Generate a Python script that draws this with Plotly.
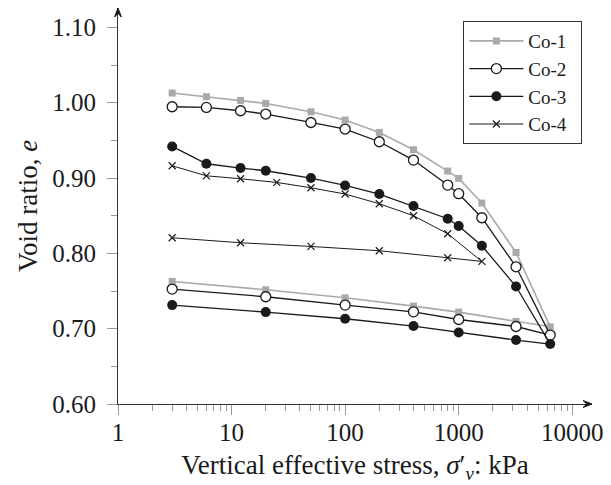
import plotly.graph_objects as go

# ---- data ----
stress_13 = [3, 6, 12, 20, 50, 100, 200, 400, 800, 1000, 1600, 3200, 6400,
             3200, 1000, 400, 100, 20, 3]
e_co1 = [1.0129, 1.0080, 1.0031, 0.9991, 0.9880, 0.9770, 0.9606, 0.9376, 0.9093,
         0.8995, 0.8668, 0.8012, 0.7025,
         0.7096, 0.7220, 0.7300, 0.7410, 0.7517, 0.7627]
e_co2 = [0.9947, 0.9938, 0.9894, 0.9850, 0.9738, 0.9651, 0.9482, 0.9239, 0.8907,
         0.8792, 0.8473, 0.7822, 0.6915,
         0.7029, 0.7122, 0.7224, 0.7313, 0.7424, 0.7526]
e_co3 = [0.9420, 0.9190, 0.9133, 0.9097, 0.9000, 0.8902, 0.8788, 0.8628, 0.8460,
         0.8363, 0.8101, 0.7560, 0.6796,
         0.6849, 0.6950, 0.7035, 0.7132, 0.7220, 0.7313]
stress_4 = [3, 6, 12, 25, 50, 100, 200, 400, 800, 1600,
            800, 200, 50, 12, 3]
e_co4 = [0.9163, 0.9030, 0.8991, 0.8942, 0.8871, 0.8788, 0.8659, 0.8500, 0.8261, 0.7893,
         0.7942, 0.8035, 0.8092, 0.8141, 0.8207]
series_names = ["Co-1", "Co-2", "Co-3", "Co-4"]

x_ticks = [1, 10, 100, 1000, 10000]
x_tick_text = ["1", "10", "100", "1000", "10000"]
x_minor = [m * d for d in [1, 10, 100, 1000] for m in range(2, 10)]
y_ticks = [0.60, 0.70, 0.80, 0.90, 1.00, 1.10]
y_tick_text = ["0.60", "0.70", "0.80", "0.90", "1.00", "1.10"]
y_minor = [0.65, 0.75, 0.85, 0.95, 1.05]

FONT = "Liberation Serif"
PAD = "\u00a0\u00a0"

fig = go.Figure()
fig.add_trace(go.Scatter(x=stress_13, y=e_co1, name=series_names[0] + PAD, mode="lines+markers",
                         line=dict(color="#aaaaaa", width=1.6),
                         marker=dict(symbol="square", size=7, color="#aaaaaa")))
fig.add_trace(go.Scatter(x=stress_13, y=e_co2, name=series_names[1] + PAD, mode="lines+markers",
                         line=dict(color="#1a1a1a", width=1.3),
                         marker=dict(symbol="circle", size=10, color="white",
                                     line=dict(color="#1a1a1a", width=1.3))))
fig.add_trace(go.Scatter(x=stress_13, y=e_co3, name=series_names[2] + PAD, mode="lines+markers",
                         line=dict(color="#1a1a1a", width=1.3),
                         marker=dict(symbol="circle", size=10, color="#1a1a1a")))
fig.add_trace(go.Scatter(x=stress_4, y=e_co4, name=series_names[3] + PAD, mode="lines+markers",
                         line=dict(color="#1a1a1a", width=1.0),
                         marker=dict(symbol="x-thin", size=7,
                                     line=dict(color="#1a1a1a", width=1.2))))

fig.update_layout(
    width=611, height=485,
    margin=dict(l=118, r=14, t=8, b=81),
    paper_bgcolor="white", plot_bgcolor="white",
    font=dict(family=FONT, size=25, color="#1a1a1a"),
    legend=dict(x=0.7286, y=0.967, xanchor="left", yanchor="top",
                bordercolor="#333333", borderwidth=1, bgcolor="white",
                font=dict(size=19, family=FONT), tracegroupgap=0,
                itemwidth=54),
    xaxis=dict(type="log", range=[0, 4.174],
               showline=True, linecolor="#333333", linewidth=1.2,
               showgrid=False, zeroline=False,
               tickmode="array", tickvals=x_ticks, ticktext=x_tick_text,
               ticks="outside", ticklen=10, tickcolor="#999999", tickwidth=1,
               ticklabelstandoff=-4,
               minor=dict(tickmode="array", tickvals=x_minor, ticks="outside",
                          ticklen=6, tickcolor="#999999", tickwidth=1, showgrid=False),
               title=dict(text="Vertical effective stress, <i>σ</i>′<sub><i>v</i></sub>: kPa",
                          font=dict(size=27, family=FONT), standoff=10)),
    yaxis=dict(range=[0.60, 1.1258],
               showline=True, linecolor="#333333", linewidth=1.2,
               showgrid=False, zeroline=False,
               tickmode="array", tickvals=y_ticks, ticktext=y_tick_text,
               ticks="outside", ticklen=10, tickcolor="#999999", tickwidth=1,
               ticklabelstandoff=6,
               minor=dict(tickmode="array", tickvals=y_minor, ticks="outside",
                          ticklen=6, tickcolor="#999999", tickwidth=1, showgrid=False),
               title=dict(text="Void ratio, <i>e</i>",
                          font=dict(size=27, family=FONT), standoff=6)),
)

# axis arrowheads drawn as small triangles (plot area is 479 x 396 px)
PW, PH = 479.0, 396.0
al, aw = 9.0, 3.5
fig.add_shape(type="path", xref="paper", yref="paper",
              path=f"M 1 0 L {1 - al / PW} {aw / PH} L {1 - 0.6 * al / PW} 0 L {1 - al / PW} {-aw / PH} Z",
              fillcolor="#1a1a1a", line=dict(color="#1a1a1a", width=1))
fig.add_shape(type="path", xref="paper", yref="paper",
              path=f"M 0 1 L {aw / PW} {1 - al / PH} L 0 {1 - 0.6 * al / PH} L {-aw / PW} {1 - al / PH} Z",
              fillcolor="#1a1a1a", line=dict(color="#1a1a1a", width=1))

fig.write_html("out.html")
